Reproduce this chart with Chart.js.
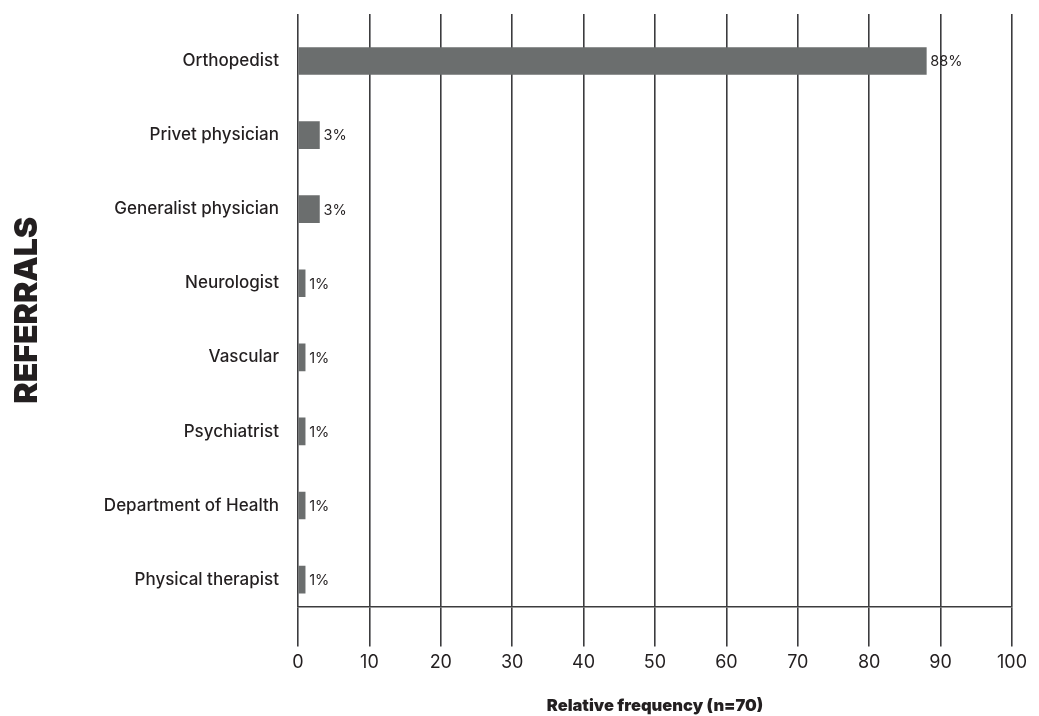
<!DOCTYPE html>
<html>
<head>
<meta charset="utf-8">
<title>Referrals</title>
<script src="https://cdn.jsdelivr.net/npm/chart.js@4.4.1/dist/chart.umd.min.js"></script>
<style>
    body { margin: 0; background: #fff; }
    #wrap { width: 1039px; height: 716px; }
</style>
</head>
<body>
<div id="wrap"><canvas id="bar-chart" width="1039" height="716"></canvas></div>
<script>
/*DATA*/
const categories = [
    "Orthopedist",
    "Privet physician",
    "Generalist physician",
    "Neurologist",
    "Vascular",
    "Psychiatrist",
    "Department of Health",
    "Physical therapist"
];
const percentages = [88, 3, 3, 1, 1, 1, 1, 1];
const xTicks = [0, 10, 20, 30, 40, 50, 60, 70, 80, 90, 100];

const ink = "#231f20";
const gridColor = "#3c3c3e";
const barColor = "#6b6e6e";
const fontFamily = "Inter, Lato, 'Open Sans', sans-serif";

// bars sit on a linear y scale (index of category) so the bands can be shifted
const points = [];
for (let i = 0; i < categories.length; i++) {
    points.push({ x: percentages[i], y: i });
}

// value labels at the end of each bar
const valueLabels = {
    id: "valueLabels",
    afterDatasetsDraw(chart) {
        const ctx = chart.ctx;
        const meta = chart.getDatasetMeta(0);
        ctx.save();
        ctx.font = "14.5px " + fontFamily;
        ctx.fillStyle = ink;
        ctx.textAlign = "left";
        ctx.textBaseline = "middle";
        meta.data.forEach((bar, i) => {
            ctx.fillText(percentages[i] + "%", bar.x + 4, bar.y + 1);
        });
        ctx.restore();
    }
};

new Chart(document.getElementById("bar-chart"), {
    type: "bar",
    data: {
        datasets: [{
            data: points,
            backgroundColor: barColor,
            borderWidth: 0,
            barThickness: 27
        }]
    },
    options: {
        indexAxis: "y",
        responsive: false,
        animation: false,
        layout: {
            padding: { top: 14, right: 27, bottom: 0, left: 0 }
        },
        plugins: {
            legend: { display: false },
            tooltip: { enabled: false }
        },
        scales: {
            x: {
                type: "linear",
                position: "bottom",
                min: 0,
                max: 100,
                afterBuildTicks: (scale) => {
                    scale.ticks = xTicks.map(v => ({ value: v }));
                },
                grid: {
                    color: gridColor,
                    lineWidth: 1.6,
                    tickLength: 40,
                    tickColor: gridColor
                },
                border: {
                    display: true,
                    color: gridColor,
                    width: 1.6
                },
                ticks: {
                    color: ink,
                    padding: 5,
                    maxRotation: 0,
                    font: { family: fontFamily, size: 18 }
                },
                title: {
                    display: true,
                    text: "Relative frequency (n=70)",
                    color: ink,
                    padding: { top: 18, bottom: 0 },
                    font: { family: fontFamily, size: 16.5, weight: "900" }
                }
            },
            y: {
                type: "linear",
                reverse: true,
                offset: false,
                min: -0.634,
                max: 7.364,
                afterBuildTicks: (scale) => {
                    scale.ticks = categories.map((c, i) => ({ value: i }));
                },
                afterFit: (scale) => {
                    scale.width = 298;
                    // labels never sit on the ends, so no extra room is needed
                    scale.paddingTop = 0;
                    scale.paddingBottom = 0;
                },
                grid: { display: false, offset: false },
                border: { display: false },
                ticks: {
                    color: ink,
                    padding: 11,
                    font: { family: fontFamily, size: 17, weight: "500" },
                    callback: (value) => categories[value]
                },
                title: {
                    display: true,
                    text: "REFERRALS",
                    color: ink,
                    padding: { top: 8, bottom: 0 },
                    font: { family: fontFamily, size: 32, weight: "900" }
                }
            }
        }
    },
    plugins: [valueLabels]
});
</script>
</body>
</html>
